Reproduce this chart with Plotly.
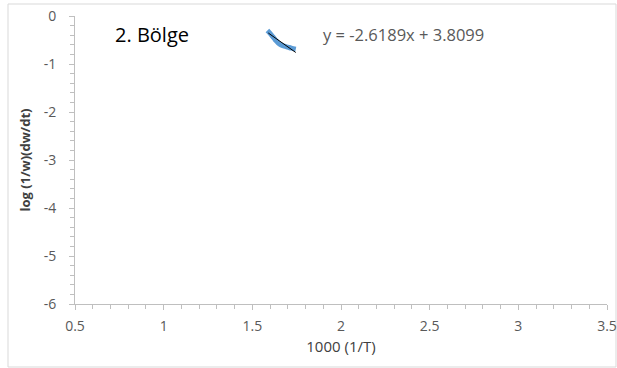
import plotly.graph_objects as go
import numpy as np

# data
x_data = [1.585, 1.60, 1.615, 1.63, 1.645, 1.66, 1.68, 1.70, 1.72, 1.745]
y_data = [-0.30, -0.36, -0.43, -0.50, -0.56, -0.60, -0.63, -0.65, -0.67, -0.69]
slope = -2.6189
intercept = 3.8099
trend_x = [1.59, 1.745]
trend_y = [slope * v + intercept for v in trend_x]
x_ticks = [0.5, 1, 1.5, 2, 2.5, 3, 3.5]
y_ticks = [0, -1, -2, -3, -4, -5, -6]

FONT = "Open Sans"
fig = go.Figure()
fig.add_trace(go.Scatter(x=x_data, y=y_data, mode="lines",
                         line=dict(color="#5B9BD5", width=5, shape="spline"),
                         showlegend=False, hoverinfo="skip"))
fig.add_trace(go.Scatter(x=trend_x, y=trend_y, mode="lines",
                         line=dict(color="#000000", width=1),
                         showlegend=False, hoverinfo="skip"))

L, R, T, B = 75, 10, 16, 64
W, H = 617, 368
pw, ph = W - L - R, H - T - B

axis_common = dict(showgrid=False, zeroline=False, showline=True,
                   linecolor="#BFBFBF", linewidth=1, ticks="outside",
                   ticklen=5, tickcolor="#BFBFBF", automargin=False,
                   tickfont=dict(family=FONT, size=14, color="#595959"))

fig.update_layout(
    width=W, height=H,
    margin=dict(l=L, r=R, t=T, b=B, autoexpand=False),
    paper_bgcolor="white", plot_bgcolor="white",
    xaxis=dict(range=[0.5, 3.5], tickvals=x_ticks,
               ticktext=[str(v) for v in x_ticks],
               minor=dict(dtick=0.1, ticks="outside", ticklen=4, tickcolor="#BFBFBF", showgrid=False),
               title=dict(text="1000 (1/T)", font=dict(family=FONT, size=15, color="#404040"), standoff=7),
               ticklabelstandoff=4,
               **axis_common),
    yaxis=dict(range=[-6, 0], tickvals=y_ticks,
               ticktext=[str(v) for v in y_ticks],
               minor=dict(dtick=0.2, ticks="outside", ticklen=4, tickcolor="#BFBFBF", showgrid=False),
               title=dict(text="<b>log (1/w)(dw/dt)</b>", font=dict(family=FONT, size=13, color="#404040"), standoff=10),
               ticklabelstandoff=10,
               **axis_common),
    annotations=[
        dict(x=0.714, y=-0.375, xref="x", yref="y", text="2. Bölge", showarrow=False,
             xanchor="left", font=dict(family=FONT, size=20, color="#000000")),
        dict(x=1.89, y=-0.375, xref="x", yref="y", text="y = -2.6189x + 3.8099", showarrow=False,
             xanchor="left", font=dict(family=FONT, size=16.5, color="#595959")),
    ],
    shapes=[dict(type="rect", xref="paper", yref="paper",
                 x0=(8 - L) / pw, x1=(616 - L) / pw,
                 y0=(H - B - 367) / ph, y1=1 + (T - 4) / ph,
                 line=dict(color="#D9D9D9", width=1), layer="below")],
)
fig.write_html("out.html")
